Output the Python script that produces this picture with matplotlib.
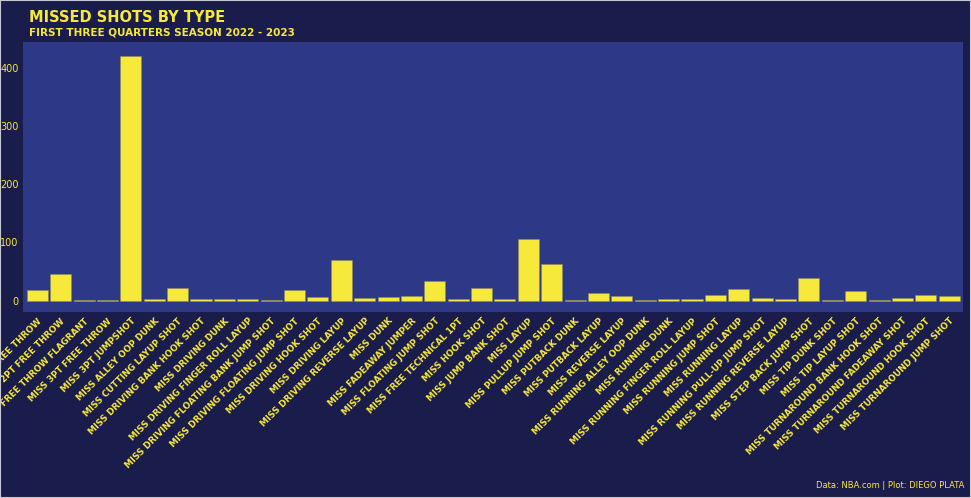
import matplotlib.pyplot as plt
import numpy as np

shot_types = [
    "MISS 1PT FREE THROW", "MISS 2PT FREE THROW", "MISS 2PT FREE THROW FLAGRANT",
    "MISS 3PT FREE THROW", "MISS 3PT JUMPSHOT", "MISS ALLEY OOP DUNK",
    "MISS CUTTING LAYUP SHOT", "MISS DRIVING BANK HOOK SHOT", "MISS DRIVING DUNK",
    "MISS DRIVING FINGER ROLL LAYUP", "MISS DRIVING FLOATING BANK JUMP SHOT",
    "MISS DRIVING FLOATING JUMP SHOT", "MISS DRIVING HOOK SHOT", "MISS DRIVING LAYUP",
    "MISS DRIVING REVERSE LAYUP", "MISS DUNK", "MISS FADEAWAY JUMPER",
    "MISS FLOATING JUMP SHOT", "MISS FREE TECHNICAL 1PT", "MISS HOOK SHOT",
    "MISS JUMP BANK SHOT", "MISS LAYUP", "MISS PULLUP JUMP SHOT", "MISS PUTBACK DUNK",
    "MISS PUTBACK LAYUP", "MISS REVERSE LAYUP", "MISS RUNNING ALLEY OOP DUNK",
    "MISS RUNNING DUNK", "MISS RUNNING FINGER ROLL LAYUP", "MISS RUNNING JUMP SHOT",
    "MISS RUNNING LAYUP", "MISS RUNNING PULL-UP JUMP SHOT", "MISS RUNNING REVERSE LAYUP",
    "MISS STEP BACK JUMP SHOT", "MISS TIP DUNK SHOT", "MISS TIP LAYUP SHOT",
    "MISS TURNAROUND BANK HOOK SHOT", "MISS TURNAROUND FADEAWAY SHOT",
    "MISS TURNAROUND HOOK SHOT", "MISS TURNAROUND JUMP SHOT",
]
missed = [18, 46, 1, 1, 420, 2, 22, 2, 2, 2, 1, 18, 6, 70, 4, 6, 8, 34, 2, 22,
          2, 106, 63, 1, 13, 8, 1, 2, 2, 10, 20, 4, 2, 39, 1, 16, 1, 4, 10, 8]

bg = '#1a1c4b'
panel = '#2d3886'
yellow = '#f7e93c'

fig = plt.figure(figsize=(9.71, 4.98), dpi=100, facecolor=bg)
ax = fig.add_axes([0.024, 0.373, 0.968, 0.543])
ax.set_facecolor(panel)

x = np.arange(len(shot_types))
ax.bar(x, missed, width=0.9, color=yellow, edgecolor='#8a8a5a', linewidth=0.4)
ax.set_xlim(-0.6, len(shot_types) - 0.4)
ax.set_ylim(-20, 445)
ax.set_yticks([0, 100, 200, 300, 400])
ax.set_xticks(x)
ax.set_xticklabels(shot_types, rotation=45, ha='right', rotation_mode='anchor',
                   fontsize=6.3, fontweight='bold', color=yellow)
ax.tick_params(axis='y', colors=yellow, labelsize=7, length=0)
ax.tick_params(axis='x', length=0, pad=3)
for s in ax.spines.values():
    s.set_visible(False)

fig.patches.append(plt.Rectangle((0, 0), 1, 1, transform=fig.transFigure,
                                 fill=False, edgecolor='#c8c8d0', linewidth=1.5))

fig.text(0.03, 0.965, "MISSED SHOTS BY TYPE", color=yellow, fontsize=10.5,
         fontweight='bold', va='center')
fig.text(0.03, 0.935, "FIRST THREE QUARTERS SEASON 2022 - 2023", color=yellow,
         fontsize=7.5, fontweight='bold', va='center')
fig.text(0.993, 0.025, "Data: NBA.com | Plot: DIEGO PLATA", color=yellow,
         fontsize=6, ha='right', va='center')

fig.savefig('out.png', dpi=100, facecolor=bg)
